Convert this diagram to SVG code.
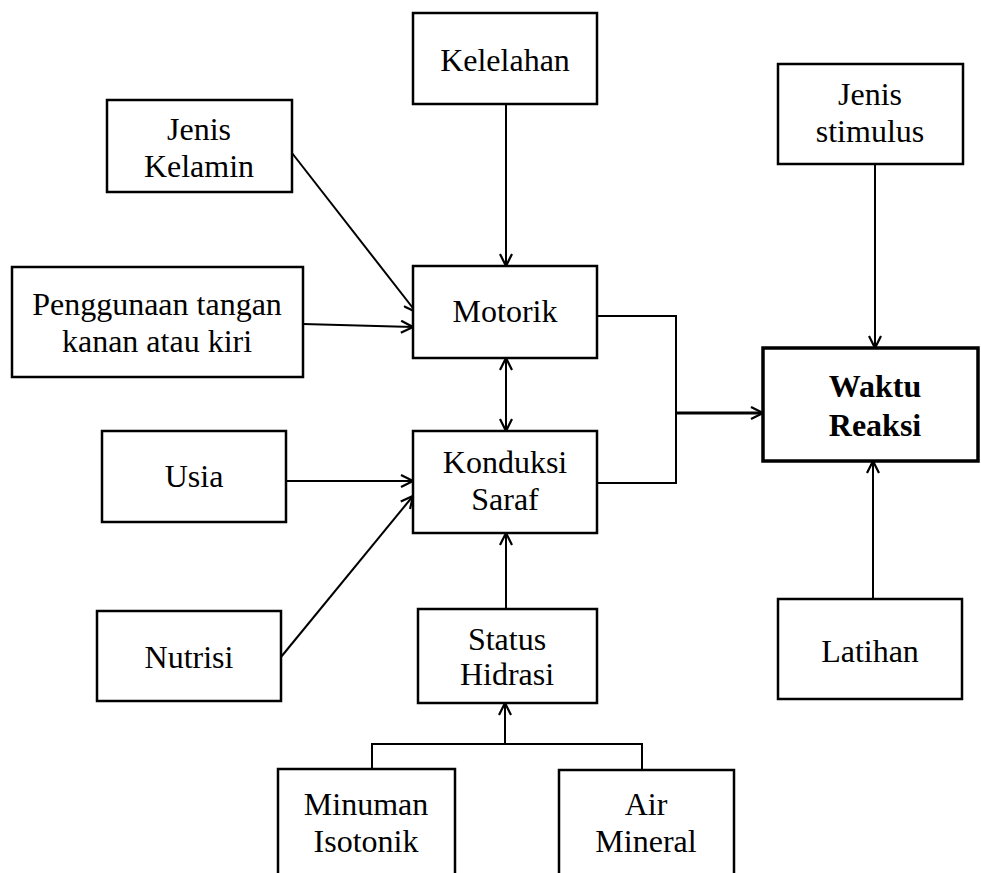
<svg xmlns="http://www.w3.org/2000/svg" width="981" height="873" viewBox="0 0 981 873">
<style>
.box{fill:#fff;stroke:#000;stroke-width:2.5}
.bold{fill:#fff;stroke:#000;stroke-width:3.5}
.t{font-family:"Liberation Serif","Times New Roman",serif;font-size:32px;fill:#000;text-anchor:middle}
.tb{font-weight:bold}
.c{fill:none;stroke:#000;stroke-width:2}
.ca{marker-end:url(#ah)}
</style>
<defs>
<marker id="ah" viewBox="0 0 14 14" refX="13" refY="7" markerWidth="14" markerHeight="14" markerUnits="userSpaceOnUse" orient="auto-start-reverse">
<path d="M1,1 L13,7 L1,13" fill="none" stroke="#000" stroke-width="2.2"/>
</marker>
</defs>
<rect width="981" height="873" fill="#fff"/>
<g id="connectors">
<line class="c ca" x1="506" y1="104" x2="506" y2="266"/>
<line class="c ca" x1="292" y1="153" x2="416" y2="312"/>
<line class="c ca" x1="303" y1="324" x2="413" y2="327"/>
<line class="c ca" x1="286" y1="481" x2="413" y2="481"/>
<line class="c ca" x1="281" y1="657" x2="413" y2="496"/>
<line class="c ca" x1="506" y1="358" x2="506" y2="431" marker-start="url(#ah)"/>
<line class="c ca" x1="506" y1="609" x2="506" y2="533"/>
<polyline class="c" points="372,769 372,744 642,744 642,770"/>
<line class="c ca" x1="505" y1="744" x2="505" y2="703"/>
<polyline class="c" points="597,316 676,316 676,483 597,483"/>
<line class="c ca" x1="676" y1="413" x2="763" y2="413" style="stroke-width:3"/>
<line class="c ca" x1="875" y1="164" x2="875" y2="348"/>
<line class="c ca" x1="873" y1="599" x2="873" y2="461"/>
</g>
<g id="kelelahan"><rect class="box" x="413" y="13" width="184" height="91"/><text class="t" x="505" y="71">Kelelahan</text></g>
<g id="jenis-kelamin"><rect class="box" x="107" y="100" width="185" height="92"/><text class="t" x="199" y="140">Jenis</text><text class="t" x="199" y="177">Kelamin</text></g>
<g id="jenis-stimulus"><rect class="box" x="778" y="64" width="185" height="100"/><text class="t" x="870" y="105">Jenis</text><text class="t" x="870" y="142">stimulus</text></g>
<g id="penggunaan"><rect class="box" x="12" y="267" width="291" height="110"/><text class="t" x="157" y="315">Penggunaan tangan</text><text class="t" x="157" y="352">kanan atau kiri</text></g>
<g id="motorik"><rect class="box" x="413" y="266" width="184" height="92"/><text class="t" x="505" y="322">Motorik</text></g>
<g id="waktu-reaksi"><rect class="bold" x="763" y="348" width="215" height="113"/><text class="t tb" x="875" y="397">Waktu</text><text class="t tb" x="875" y="436">Reaksi</text></g>
<g id="usia"><rect class="box" x="102" y="431" width="184" height="91"/><text class="t" x="194" y="487">Usia</text></g>
<g id="konduksi-saraf"><rect class="box" x="413" y="431" width="184" height="102"/><text class="t" x="505" y="473">Konduksi</text><text class="t" x="505" y="510">Saraf</text></g>
<g id="nutrisi"><rect class="box" x="97" y="611" width="184" height="90"/><text class="t" x="189" y="668">Nutrisi</text></g>
<g id="status-hidrasi"><rect class="box" x="418" y="609" width="179" height="94"/><text class="t" x="507" y="650">Status</text><text class="t" x="507" y="685">Hidrasi</text></g>
<g id="latihan"><rect class="box" x="778" y="599" width="184" height="100"/><text class="t" x="870" y="662">Latihan</text></g>
<g id="minuman-isotonik"><rect class="box" x="278" y="769" width="177" height="120"/><text class="t" x="366" y="815">Minuman</text><text class="t" x="366" y="852">Isotonik</text></g>
<g id="air-mineral"><rect class="box" x="559" y="770" width="175" height="120"/><text class="t" x="646" y="815">Air</text><text class="t" x="646" y="852">Mineral</text></g>
</svg>
